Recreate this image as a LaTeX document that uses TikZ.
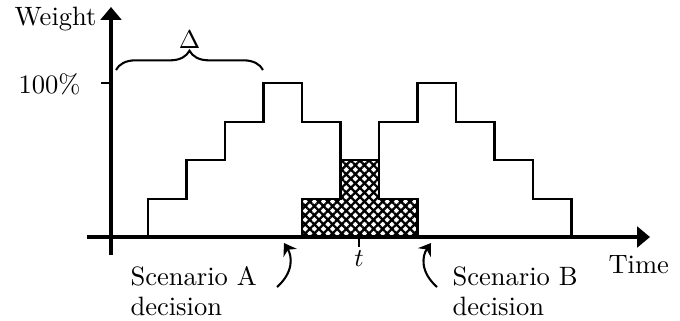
\documentclass[tikz,border=0pt]{standalone}
\usetikzlibrary{arrows.meta,patterns.meta,decorations.pathreplacing}
\tikzset{
  axisline/.style={line width=1.2pt,-{Triangle[length=5pt,width=8pt]}},
  tickline/.style={line width=1.1pt},
  stairline/.style={line width=0.8pt},
  overlap/.style={line width=1.1pt,pattern={Hatch[angle=45,distance=2.5pt,line width=0.9pt]}},
  callout/.style={line width=0.8pt,-{Stealth[length=4.5pt,width=6pt]}},
  lbl/.style={inner sep=0pt,font=\fontsize{10.3}{12}\selectfont},
}
\begin{document}
\begin{tikzpicture}[x=0.388pt,y=-0.388pt]
\useasboundingbox (0,0) rectangle (680,320);
% coordinates
\coordinate (xs) at (87,237);
\coordinate (xe) at (650,237);
\coordinate (ys) at (111,255);
\coordinate (ye) at (111,7);
% staircases (outline)
\draw[stairline] (148,237) -- (148,199) -- (186.5,199) -- (186.5,160) -- (225,160) -- (225,122)
  -- (263.5,122) -- (263.5,83) -- (302,83) -- (302,122) -- (340.5,122) -- (340.5,160);
\draw[stairline] (379,160) -- (379,122) -- (417.5,122) -- (417.5,83) -- (456,83) -- (456,122)
  -- (494.5,122) -- (494.5,160) -- (533,160) -- (533,199) -- (571.5,199) -- (571.5,237);
% overlap
\draw[overlap] (302,237) -- (302,199) -- (340.5,199) -- (340.5,160) -- (379,160) -- (379,199)
  -- (417.5,199) -- (417.5,237) -- cycle;
% axes
\draw[axisline] (xs) -- (xe);
\draw[axisline] (ys) -- (ye);
% ticks
\draw[tickline] (101,83) -- (111,83);
\draw[tickline] (359,237) -- (359,247);
% labels
\node[lbl,anchor=base east] (weight) at (97,25) {Weight};
\node[lbl,anchor=east] (full) at (81,84) {100\%};
\node[lbl,anchor=base west] (time) at (608,273) {Time};
\node[lbl,anchor=base] (tlab) at (359,266) {$t$};
\node[lbl,anchor=base west] (sa1) at (130,285) {Scenario A};
\node[lbl,anchor=base west] (sa2) at (130,315) {decision};
\node[lbl,anchor=base west] (sb1) at (452,285) {Scenario B};
\node[lbl,anchor=base west] (sb2) at (452,315) {decision};
% brace
\coordinate (bl) at (116,70);
\coordinate (br) at (263,70);
\draw[line width=0.8pt,decorate,decoration={brace,amplitude=7.5pt,raise=0pt}] (bl) -- (br)
  node[midway,above=8pt,inner sep=0pt,font=\fontsize{10.3}{12}\selectfont] (delta) {$\Delta$};
% callouts
\coordinate (aS) at (277,287);
\coordinate (aE) at (284,243);
\coordinate (bS) at (437,287);
\coordinate (bE) at (431,243);
\draw[callout] (aS) .. controls (294,272) and (292,256) .. (aE);
\draw[callout] (bS) .. controls (420,272) and (422,256) .. (bE);
\end{tikzpicture}
\end{document}
